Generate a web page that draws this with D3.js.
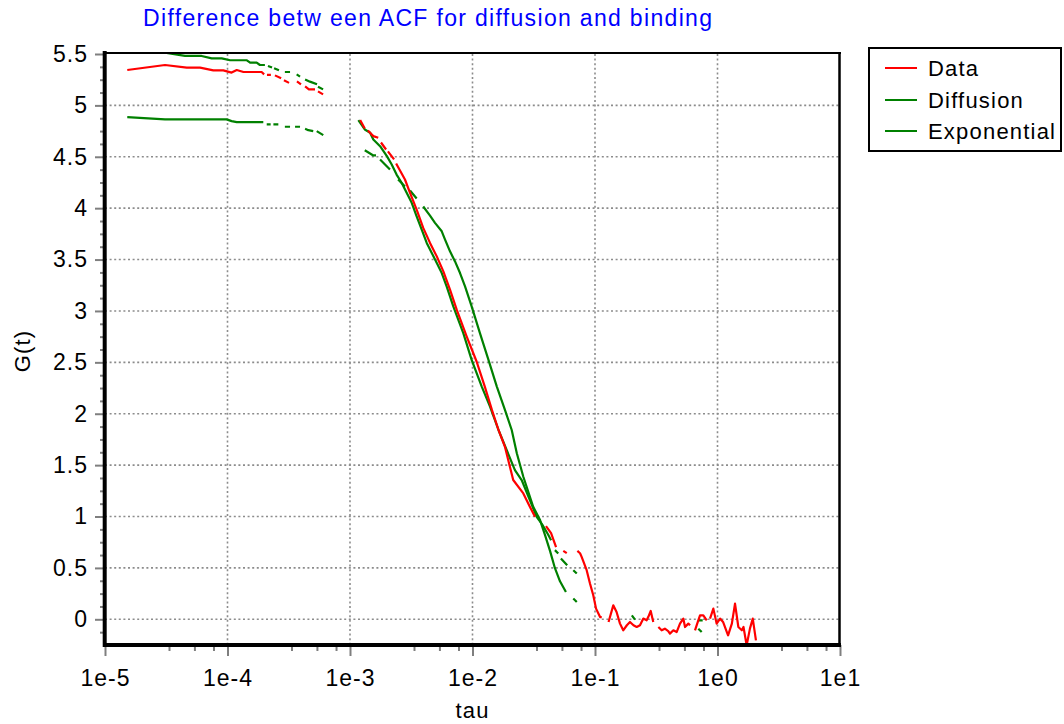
<!DOCTYPE html>
<html><head><meta charset="utf-8">
<script src="https://cdn.jsdelivr.net/npm/d3@7"></script>
<style>
html,body{margin:0;padding:0;background:#fff;}
svg{display:block;font-family:"Liberation Sans",Arial,sans-serif;}
</style></head><body>
<svg id="chart" width="1064" height="724"></svg>
<script>
// ---------- data ----------
const titleText = "Difference betw een ACF for diffusion and binding";
const xLabel = "tau";
const yLabel = "G(t)";
const seriesNames = ["Data", "Diffusion", "Exponential"];
const seriesColors = ["#ff0000", "#008000", "#008000"];

const xTicks = [1e-5, 1e-4, 1e-3, 1e-2, 1e-1, 1e0, 1e1];
const xTickLabels = ["1e-5", "1e-4", "1e-3", "1e-2", "1e-1", "1e0", "1e1"];
const xMinorFactors = [3.33, 5.37, 7.69];
const yTicks = [0, 0.5, 1, 1.5, 2, 2.5, 3, 3.5, 4, 4.5, 5, 5.5];
const yTickLabels = ["0", "0.5", "1", "1.5", "2", "2.5", "3", "3.5", "4", "4.5", "5", "5.5"];
const yMinorStep = 0.125;

// null marks a break in the drawn line
const dataTau = [
  1.52e-5, 3.09e-5, 4.65e-5, 5.97e-5, 7.66e-5, 9.24e-5, 1.08e-4, 1.19e-4, 1.35e-4, 1.90e-4, 1.99e-4, null,
  2.10e-4, 2.26e-4, null, 2.44e-4, 2.74e-4, null, 2.89e-4, 3.18e-4, null, 3.69e-4, 3.98e-4, null,
  4.30e-4, 4.62e-4, 5.18e-4, null, 5.48e-4, 6.03e-4, null,
  1.21e-3, 1.32e-3, null, 1.40e-3, 1.55e-3, 1.70e-3, null, 1.79e-3, 1.97e-3, null, 2.04e-3, 2.29e-3, null,
  2.38e-3, 2.81e-3, 3.09e-3, 3.50e-3, 3.96e-3, 4.50e-3, 5.11e-3, 5.78e-3, 6.55e-3, 7.43e-3, 8.97e-3,
  1.08e-2, 1.26e-2, 1.44e-2, 1.63e-2, 1.84e-2, 2.02e-2, 2.15e-2, 2.60e-2, 2.94e-2, 3.24e-2, null,
  3.98e-2, 4.38e-2, 4.81e-2, null, 5.51e-2, 5.88e-2, null,
  7.18e-2, 7.55e-2, 7.78e-2, 8.55e-2, 9.10e-2, 9.68e-2, 1.02e-1, 1.10e-1, 1.135e-1, null,
  1.29e-1, 1.41e-1, 1.50e-1, 1.60e-1, 1.70e-1, 1.82e-1, 1.93e-1, 2.06e-1, 2.19e-1, 2.33e-1, 2.48e-1,
  2.64e-1, 2.72e-1, 2.85e-1, 2.99e-1, null,
  3.29e-1, 3.50e-1, 3.72e-1, 3.96e-1, 4.09e-1, 4.36e-1, 4.64e-1, 4.94e-1, 5.26e-1, 5.43e-1, 5.78e-1, 5.97e-1, null,
  6.55e-1, 6.97e-1, 7.20e-1, 7.66e-1, 8.17e-1, null,
  8.69e-1, 9.25e-1, 9.84e-1, 1.05, 1.11, 1.22, 1.31, 1.39, 1.48, 1.58, 1.63, 1.73, 1.84, 1.94, 2.06
];
const dataG = [
  5.344, 5.393, 5.367, 5.367, 5.341, 5.341, 5.319, 5.344, 5.325, 5.325, 5.302, null,
  5.297, 5.297, null, 5.292, 5.263, null, 5.244, 5.219, null, 5.234, 5.205, null,
  5.185, 5.156, 5.156, null, 5.136, 5.107, null,
  4.857, 4.776, null, 4.756, 4.701, 4.685, null, 4.639, 4.571, null, 4.552, 4.474, null,
  4.435, 4.279, 4.149, 3.986, 3.808, 3.662, 3.531, 3.385, 3.207, 3.012, 2.751,
  2.508, 2.264, 2.037, 1.842, 1.679, 1.484, 1.355, 1.225, 1.095, 0.997, null,
  0.906, 0.838, 0.702, null, 0.666, 0.643, null,
  0.666, 0.643, 0.607, 0.478, 0.348, 0.234, 0.104, 0.022, 0.022, null,
  -0.026, 0.136, 0.071, -0.042, -0.107, -0.058, -0.026, -0.058, -0.075, -0.058, 0.007,
  -0.010, 0.022, 0.081, -0.026, null,
  -0.075, -0.107, -0.091, -0.114, -0.139, -0.107, -0.124, -0.042, 0.007, -0.075, -0.042, -0.058, null,
  -0.107, -0.010, 0.039, 0.039, -0.010, null,
  0.007, 0.104, -0.042, 0.007, -0.026, -0.156, -0.042, 0.153, -0.075, -0.107, -0.075, -0.253, -0.091, 0.007, -0.205
];

const diffTau = [
  1.54e-5, 3.09e-5, 4.50e-5, 6.15e-5, 7.43e-5, 8.97e-5, 1.05e-4, 1.44e-4, 1.53e-4, 1.73e-4, 1.84e-4, 2.02e-4, null,
  2.14e-4, 2.31e-4, null, 2.40e-4, 2.63e-4, null, 2.94e-4, 3.24e-4, null, 3.67e-4, 3.91e-4, null,
  4.30e-4, 4.71e-4, 5.38e-4, null, 5.48e-4, 6.03e-4, null,
  1.17e-3, 1.32e-3, 1.46e-3, 1.55e-3, 1.76e-3, 2.00e-3, 2.19e-3, 2.40e-3, 2.64e-3, 2.90e-3, 3.19e-3,
  3.50e-3, 3.85e-3, 4.23e-3, 4.65e-3, 5.11e-3, 5.61e-3, 6.15e-3, 6.97e-3, 8.41e-3, 9.84e-3,
  1.19e-2, 1.39e-2, 1.63e-2, 1.90e-2, 2.22e-2, 2.52e-2, 2.94e-2, 3.34e-2, 3.69e-2, 4.13e-2, 4.38e-2, null,
  4.71e-2, 5.01e-2, null, 5.27e-2, 5.93e-2, null, 6.65e-2, 7.10e-2, null,
  2.00e-1, 2.12e-1, null, 6.97e-1, 7.43e-1
];
const diffG = [
  5.546, 5.514, 5.481, 5.481, 5.458, 5.458, 5.439, 5.439, 5.416, 5.416, 5.393, 5.393, null,
  5.383, 5.368, null, 5.361, 5.341, null, 5.325, 5.325, null, 5.302, 5.280, null,
  5.253, 5.231, 5.205, null, 5.182, 5.156, null,
  4.857, 4.766, 4.734, 4.669, 4.603, 4.506, 4.425, 4.327, 4.247, 4.149, 4.052,
  3.921, 3.791, 3.662, 3.564, 3.467, 3.369, 3.239, 3.044, 2.785, 2.524,
  2.264, 2.069, 1.842, 1.647, 1.452, 1.355, 1.160, 0.997, 0.926, 0.828, 0.770, null,
  0.673, 0.640, null, 0.592, 0.526, null, 0.478, 0.445, null,
  0.039, -0.003, null, -0.091, -0.124
];

const expTau = [
  1.52e-5, 3.09e-5, 9.84e-5, 1.08e-4, 1.19e-4, 1.96e-4, null,
  2.09e-4, 2.25e-4, null, 2.37e-4, 2.60e-4, null, 2.94e-4, 3.24e-4, null, 3.56e-4, 3.91e-4, null,
  4.30e-4, 4.57e-4, 5.01e-4, null, 5.35e-4, 6.05e-4, null,
  1.32e-3, 1.55e-3, 1.63e-3, null, 1.76e-3, 2.12e-3, null, 2.47e-3, 2.81e-3, null, 3.09e-3, 3.50e-3, null,
  3.96e-3, 4.50e-3, 4.94e-3, 5.61e-3, 5.97e-3, 6.55e-3, 7.20e-3, 7.91e-3, 8.69e-3, 9.84e-3,
  1.15e-2, 1.35e-2, 1.58e-2, 1.84e-2, 2.09e-2, 2.30e-2, 2.60e-2, 3.13e-2, 3.56e-2, 3.91e-2,
  4.30e-2, 4.71e-2, 5.18e-2, 5.79e-2, null, 6.65e-2, 7.10e-2, null,
  6.97e-1, 7.57e-1
];
const expG = [
  4.886, 4.864, 4.864, 4.847, 4.837, 4.837, null,
  4.815, 4.815, null, 4.815, 4.815, null, 4.792, 4.792, null, 4.792, 4.792, null,
  4.773, 4.759, 4.750, null, 4.750, 4.711, null,
  4.564, 4.513, 4.513, null, 4.474, 4.376, null, 4.279, 4.211, null, 4.172, 4.094, null,
  4.016, 3.928, 3.857, 3.775, 3.694, 3.580, 3.482, 3.369, 3.239, 3.044,
  2.785, 2.524, 2.264, 2.037, 1.842, 1.615, 1.387, 1.095, 0.965, 0.819,
  0.663, 0.497, 0.370, 0.266, null, 0.202, 0.169, null,
  -0.010, -0.010
];

// ---------- layout ----------
const plot = {left: 105, right: 840, top: 54, bottom: 645};
const svg = d3.select("#chart");
const x = d3.scaleLog().domain([1e-5, 1e1]).range([plot.left, plot.right]);
const y = d3.scaleLinear().domain([-0.25, 5.5]).range([plot.bottom, plot.top]);

svg.append("rect").attr("width", 1064).attr("height", 724).attr("fill", "#fff");

// grid
const grid = svg.append("g").attr("stroke", "#8c8c8c").attr("stroke-width", 1.6)
  .attr("stroke-dasharray", "2,2.6");
grid.selectAll("line.v").data(xTicks.slice(1, -1)).join("line")
  .attr("x1", d => x(d)).attr("x2", d => x(d)).attr("y1", plot.top).attr("y2", plot.bottom);
grid.selectAll("line.h").data(yTicks.slice(0, -1)).join("line")
  .attr("x1", plot.left).attr("x2", plot.right).attr("y1", d => y(d)).attr("y2", d => y(d));

// series
svg.append("clipPath").attr("id", "clip").append("rect")
  .attr("x", plot.left).attr("y", plot.top - 1)
  .attr("width", plot.right - plot.left).attr("height", plot.bottom - plot.top + 1);

const line = d3.line().defined(d => d.t !== null && d.g !== null)
  .x(d => x(d.t)).y(d => y(d.g));
const seriesData = [
  dataTau.map((t, i) => ({t, g: dataG[i]})),
  diffTau.map((t, i) => ({t, g: diffG[i]})),
  expTau.map((t, i) => ({t, g: expG[i]}))
];
const gSeries = svg.append("g").attr("clip-path", "url(#clip)");
[2, 1, 0].forEach(k => {
  gSeries.append("path").datum(seriesData[k])
    .attr("fill", "none").attr("stroke", seriesColors[k]).attr("stroke-width", 2.2)
    .attr("stroke-linejoin", "round").attr("d", line);
});

// axes ticks
const tickColor = "#7f7f7f";
const fontSize = 23;
const xMinor = [];
xTicks.slice(0, -1).forEach(t => xMinorFactors.forEach(f => xMinor.push(t * f)));
const yMinor = d3.range(-0.125, 5.5, yMinorStep).filter(v => Math.abs(v * 2 - Math.round(v * 2)) > 1e-6);

const axX = svg.append("g").attr("transform", `translate(0,${plot.bottom})`)
  .call(d3.axisBottom(x).tickValues(xTicks).tickFormat((d, i) => xTickLabels[i]).tickSize(11));
const axXm = svg.append("g").attr("transform", `translate(0,${plot.bottom})`)
  .call(d3.axisBottom(x).tickValues(xMinor).tickFormat("").tickSize(6));
const axY = svg.append("g").attr("transform", `translate(${plot.left},0)`)
  .call(d3.axisLeft(y).tickValues(yTicks).tickFormat((d, i) => yTickLabels[i]).tickSize(10).tickPadding(7));
const axYm = svg.append("g").attr("transform", `translate(${plot.left},0)`)
  .call(d3.axisLeft(y).tickValues(yMinor).tickFormat("").tickSize(5));

[axX, axXm, axY, axYm].forEach(a => {
  a.select(".domain").remove();
  a.selectAll(".tick line").attr("stroke", tickColor).attr("stroke-width", 2);
  a.selectAll("text").attr("fill", "#000").attr("font-size", fontSize)
    .attr("font-family", "'Liberation Sans', Arial, sans-serif").style("letter-spacing", "1px");
});
axX.selectAll("text").attr("y", 41).attr("dy", null);

// frame
svg.append("line").attr("x1", plot.left).attr("x2", plot.right + 1).attr("y1", 53).attr("y2", 53)
  .attr("stroke", "#000").attr("stroke-width", 2);
svg.append("line").attr("x1", 839.5).attr("x2", 839.5).attr("y1", 52).attr("y2", plot.bottom)
  .attr("stroke", "#000").attr("stroke-width", 2.5);
svg.append("line").attr("x1", 104.7).attr("x2", 104.7).attr("y1", 51).attr("y2", 647)
  .attr("stroke", "#000").attr("stroke-width", 4);
svg.append("line").attr("x1", 103).attr("x2", 841).attr("y1", 645).attr("y2", 645)
  .attr("stroke", "#000").attr("stroke-width", 4);

// title & labels
svg.append("text").attr("x", 143).attr("y", 26).attr("font-size", 23).attr("fill", "#0000ff")
  .attr("textLength", 569).attr("lengthAdjust", "spacing").text(titleText);
svg.append("text").attr("x", 472.5).attr("y", 718).attr("text-anchor", "middle")
  .attr("font-size", 22).style("letter-spacing", "1.2px").text(xLabel);
svg.append("text").attr("transform", "translate(30,351) rotate(-90)").attr("text-anchor", "middle")
  .attr("font-size", 22).style("letter-spacing", "1.2px").text(yLabel);

// legend
const leg = svg.append("g");
leg.append("rect").attr("x", 869).attr("y", 48).attr("width", 192).attr("height", 103)
  .attr("fill", "#fff").attr("stroke", "#000").attr("stroke-width", 2);
const legRows = [68, 100, 131];
seriesNames.forEach((name, i) => {
  leg.append("line").attr("x1", 885).attr("x2", 917).attr("y1", legRows[i]).attr("y2", legRows[i])
    .attr("stroke", seriesColors[i]).attr("stroke-width", 2);
  leg.append("text").attr("x", 928).attr("y", legRows[i] + 8).attr("font-size", 22)
    .style("letter-spacing", "1.2px").text(name);
});
</script>
</body></html>
